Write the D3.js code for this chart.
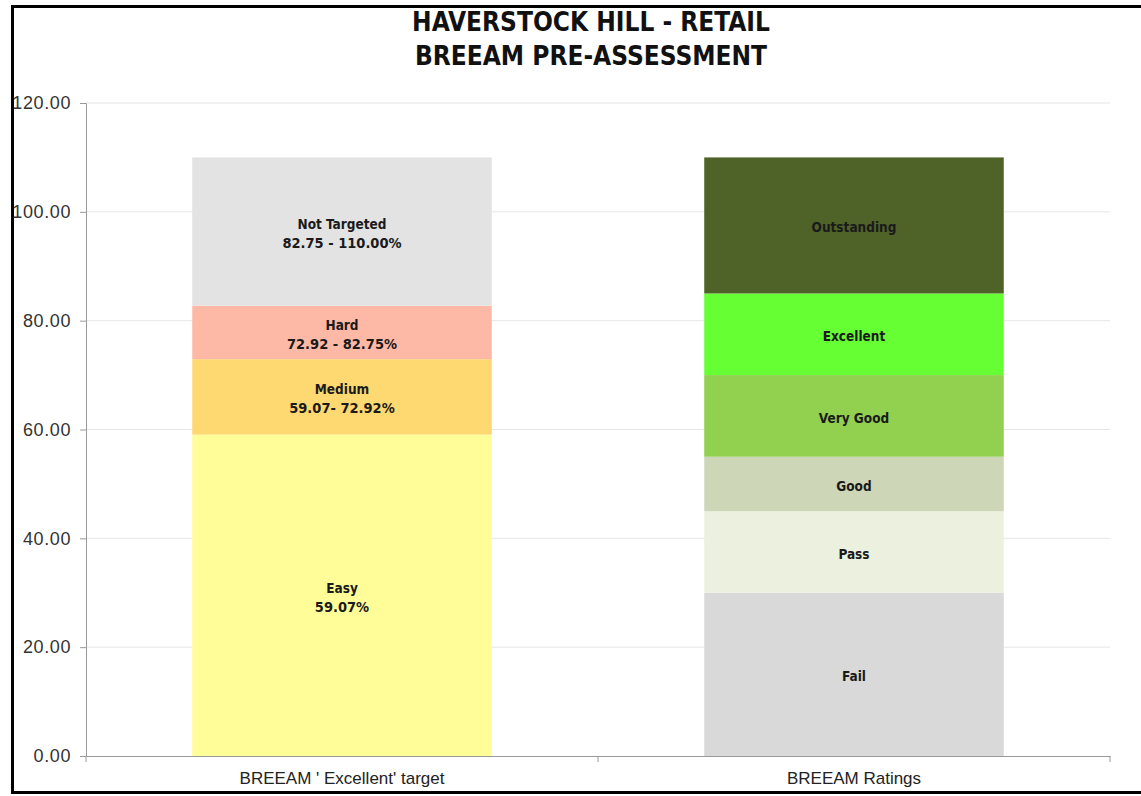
<!DOCTYPE html>
<html>
<head>
<meta charset="utf-8">
<script src="https://cdn.jsdelivr.net/npm/d3@7"></script>
<style>
  body { margin: 0; background: #fff; }
  svg { display: block; }
</style>
</head>
<body>
<div id="chart"></div>
<script>
// Chart data
const categories = ["BREEAM ' Excellent' target", "BREEAM Ratings"]
const targetBands = ["Easy", "Medium", "Hard", "Not Targeted"]
const targetValues = [59.07, 13.85, 9.83, 27.25]
const targetLabels = [["Easy", "59.07%"], ["Medium", "59.07- 72.92%"], ["Hard", "72.92 - 82.75%"], ["Not Targeted", "82.75 - 110.00%"]]
const targetColors = ["#fefd98", "#fed870", "#feb8a6", "#e3e3e3"]
const ratingBands = ["Fail", "Pass", "Good", "Very Good", "Excellent", "Outstanding"]
const ratingValues = [30, 15, 10, 15, 15, 25]
const ratingColors = ["#d9d9d9", "#ebf1de", "#ced6b8", "#92d050", "#66ff33", "#4f6228"]
const yTicks = [0, 20, 40, 60, 80, 100, 120]

const W = 1141, H = 796
const margin = { top: 103, right: 31, bottom: 40, left: 86 }
const width = W - margin.left - margin.right
const height = H - margin.top - margin.bottom

const svg = d3.select("#chart").append("svg")
  .attr("width", W)
  .attr("height", H)

// Outer frame
svg.append("rect")
  .attr("x", 12.5).attr("y", 6.5)
  .attr("width", 1140).attr("height", 786)
  .style("fill", "none")
  .style("stroke", "#000")
  .style("stroke-width", 3)

// Title
const title = svg.append("text")
  .attr("x", 591)
  .attr("text-anchor", "middle")
  .style("font-family", "'DejaVu Sans Condensed', 'DejaVu Sans', sans-serif")
  .style("font-weight", "bold")
  .style("font-size", "26px")
  .style("fill", "#111")
title.append("tspan").attr("x", 591).attr("y", 31).text("HAVERSTOCK HILL - RETAIL")
title.append("tspan").attr("x", 591).attr("y", 65).text("BREEAM PRE-ASSESSMENT")

const g = svg.append("g")
  .attr("transform", `translate(${margin.left},${margin.top})`)

const y = d3.scaleLinear().domain([0, 120]).range([height, 0])
const x = d3.scaleBand().domain(categories).range([0, width]).paddingInner(0.415).paddingOuter(0.2075)

// Grid lines
g.append("g")
  .selectAll("line")
  .data(yTicks.filter(d => d > 0))
  .enter().append("line")
  .attr("x1", 0).attr("x2", width)
  .attr("y1", d => y(d)).attr("y2", d => y(d))
  .style("stroke", "#e6e6e6")
  .style("stroke-width", 1)

// Stack the two columns
function stackData(cat, values, colors, names) {
  let acc = 0
  return values.map((v, i) => {
    const d = { cat, name: names[i], y0: acc, y1: acc + v, color: colors[i] }
    acc += v
    return d
  })
}
const leftSegs = stackData(categories[0], targetValues, targetColors, targetBands)
leftSegs.forEach((d, i) => d.lines = targetLabels[i])
const rightSegs = stackData(categories[1], ratingValues, ratingColors, ratingBands)
rightSegs.forEach(d => d.lines = [d.name])
const segs = leftSegs.concat(rightSegs)

g.selectAll(".seg")
  .data(segs)
  .enter().append("rect")
  .attr("class", "seg")
  .attr("x", d => x(d.cat))
  .attr("width", x.bandwidth())
  .attr("y", d => y(d.y1))
  .attr("height", d => y(d.y0) - y(d.y1))
  .style("fill", d => d.color)

// Segment labels
const lineGap = 19
const labels = g.selectAll(".seg-label")
  .data(segs)
  .enter().append("text")
  .attr("class", "seg-label")
  .attr("text-anchor", "middle")
  .style("font-family", "'DejaVu Sans Condensed', 'DejaVu Sans', sans-serif")
  .style("font-weight", "bold")
  .style("fill", "#1a1a1a")

labels.each(function(d) {
  const cx = x(d.cat) + x.bandwidth() / 2
  const cy = (y(d.y0) + y(d.y1)) / 2 + 2
  const n = d.lines.length
  d3.select(this).selectAll("tspan")
    .data(d.lines)
    .enter().append("tspan")
    .attr("x", cx)
    .attr("y", (t, i) => cy + (i - (n - 1) / 2) * lineGap)
    .attr("dy", "0.35em")
    .style("font-size", (t, i) => i === 0 ? "13.5px" : "14.5px")
    .text(t => t)
})

// Y axis
const yAxis = g.append("g")
  .call(d3.axisLeft(y).tickValues(yTicks).tickFormat(d3.format(".2f")).tickSize(6).tickPadding(9))
yAxis.select(".domain").style("stroke", "#999")
yAxis.selectAll(".tick line").style("stroke", "#999")
yAxis.selectAll("text")
  .style("font-family", "'Liberation Sans', Arial, sans-serif")
  .style("font-size", "18px")
  .style("letter-spacing", "0.6px")
  .style("fill", "#333")

// X axis
const xAxis = g.append("g")
  .attr("transform", `translate(0,${height})`)
  .call(d3.axisBottom(x).tickSize(0).tickPadding(16))
xAxis.select(".domain").style("stroke", "#999")
xAxis.selectAll("text")
  .style("font-family", "'Liberation Sans', Arial, sans-serif")
  .style("font-size", "17px")
  .style("fill", "#222")

// Category boundary ticks
xAxis.selectAll(".edge")
  .data([0, width / 2, width])
  .enter().append("line")
  .attr("class", "edge")
  .attr("x1", d => d).attr("x2", d => d)
  .attr("y1", 0).attr("y2", 6)
  .style("stroke", "#999")
</script>
</body>
</html>
